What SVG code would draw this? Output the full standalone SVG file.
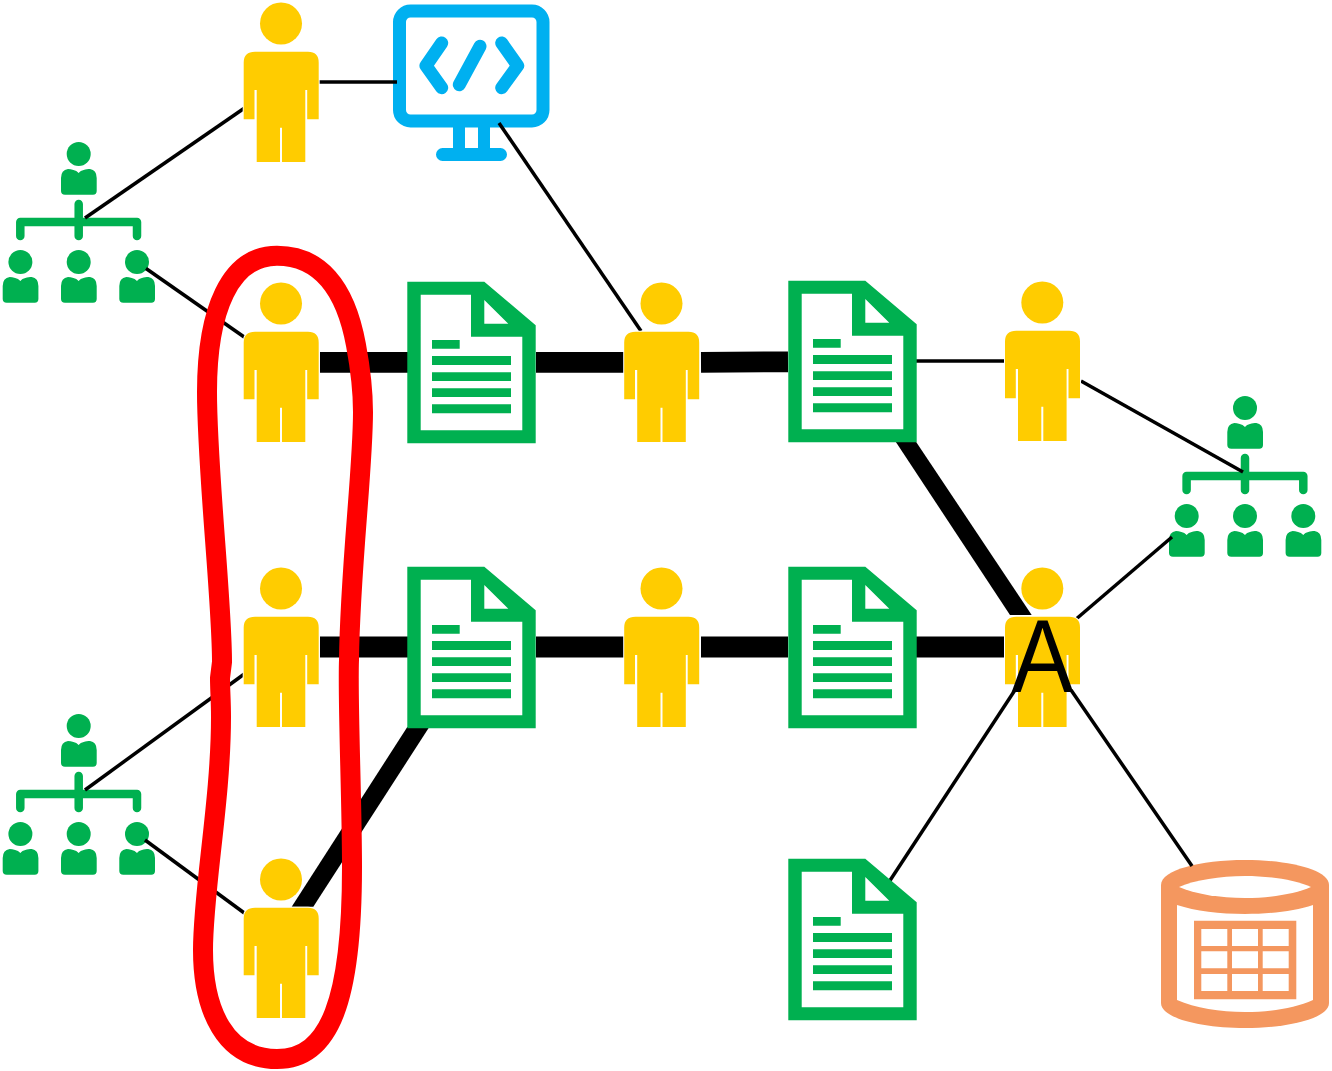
<svg xmlns="http://www.w3.org/2000/svg" width="1332" height="1071" viewBox="0 0 1332 1071">
<style>
.p{fill:#ffcc00;stroke:#fff;stroke-width:2;paint-order:stroke}
.g{fill:#00b050}
.thin{stroke:#000;stroke-width:3.5;fill:none}
.thick{stroke:#000;stroke-width:20.800;fill:none}
.o{fill:#f4975f}
.b{fill:#00b0f0}
.bs{stroke:#00b0f0;fill:none;stroke-linecap:round;stroke-linejoin:round}
</style>
<defs>
<g id="person">
<circle class="p" cx="281" cy="303.500" r="21"/>
<path class="p" d="M255 331.700H308Q318.700 331.700 318.700 342.500V399.300H307.200V370H305.300V442H282V407.700H280V442H256.700V370H254.500V399.300H243.700V342.500Q243.700 331.700 255 331.700Z"/>
</g>
<g id="doc">
<path class="g" fill-rule="evenodd" d="M407.300 281.700H484.300L535.700 325.300V443.300H407.300ZM420.700 294.700V430.300H522.300V336.700H471V294.700ZM484.300 300V323.700H508.300Z"/>
<path class="g" d="M432 340H459.700V348.700H432ZM432 356H511V365H432ZM432 372.300H511V381H432ZM432 388.300H511V397H432ZM432 404.300H511V413.300H432Z"/>
</g>
<g id="mini">
<circle class="g" cx="78.700" cy="154" r="12"/>
<path class="g" d="M68 169C71 169 76 170 78.700 173C81 170 86 169 90 169Q96.700 170 96.700 178V191Q96.700 194.700 93 194.700H65Q61 194.700 61 191V178Q61 170 68 169Z"/>
</g>
<g id="org">
<use href="#mini"/>
<use href="#mini" x="-58.300" y="108"/>
<use href="#mini" y="108"/>
<use href="#mini" x="58.300" y="108"/>
<path fill="none" stroke="#00b050" stroke-width="8.500" stroke-linecap="round" stroke-linejoin="round" d="M20.300 236V222H137V236M78.700 204V236"/>
</g>
</defs>
<g id="org-1"><use href="#org"/></g>
<g id="org-2"><use href="#org" y="572"/></g>
<g id="org-3"><use href="#org" x="1166.300" y="254"/></g>
<g id="monitor">
<rect x="399.500" y="11" width="143.500" height="110" rx="11" fill="#fff" stroke="#00b0f0" stroke-width="13"/>
<path class="b" fill-rule="evenodd" d="M453 127H490V148H500.500A6.500 6.500 0 0 1 500.500 161H442.500A6.500 6.500 0 0 1 442.500 148H453ZM465 127V148H478V127Z"/>
<path class="bs" stroke-width="13" d="M441.700 43L426 65.700L441.700 87.700M480 46.300L459.300 84.700M501.700 43L517.700 65.700L501.700 87.700"/>
</g>
<g id="database">
<path class="o" d="M1161 885C1161 870 1200 860 1245 860C1290 860 1329 870 1329 885V1003C1329 1018 1290 1028 1245 1028C1200 1028 1161 1018 1161 1003Z"/>
<path fill="#fff" d="M1179 887C1195 880 1220 876 1245 876C1270 876 1295 880 1311 887C1295 894 1270 898 1245 898C1220 898 1195 894 1179 887Z"/>
<path fill="#fff" d="M1177 905C1195 911 1220 914 1245 914C1270 914 1295 911 1313 905V1000C1295 1008 1270 1012 1245 1012C1220 1012 1195 1008 1177 1000Z"/>
<path class="o" fill-rule="evenodd" d="M1194 920.700H1296.300V999.300H1194ZM1201.300 929V946H1227.300V929ZM1232 929V946H1258V929ZM1262.700 929V946H1288.700V929ZM1201.300 951.300V968.300H1227.300V951.300ZM1232 951.300V968.300H1258V951.300ZM1262.700 951.300V968.300H1288.700V951.300ZM1201.300 974V991H1227.300V974ZM1232 974V991H1258V974ZM1262.700 974V991H1288.700V974Z"/>
</g>
<g id="connectors">
<path class="thin" d="M319 82H397"/>
<path class="thin" d="M85 218L246 107"/>
<path class="thin" d="M146 268.500L247 339"/>
<path class="thin" d="M499 123L641 331"/>
<path class="thin" d="M916 361H1004"/>
<path class="thin" d="M1081 381L1243 472"/>
<path class="thin" d="M1075 620L1172 537"/>
<path class="thin" d="M1015 690L889 882"/>
<path class="thin" d="M1071 690L1192 866"/>
<path class="thin" d="M85 790L247 672"/>
<path class="thin" d="M145 840L247 915"/>
<path class="thick" d="M320 362.300H408M536 362.300H624M701 362.300L788 361.800M320 647H408M536 647H624M701 647H788M916 647H1004"/>
<path d="M895.700 441.700H916L1031.700 615H1010Z"/>
<path d="M407.300 727H429.300L313.300 906.700H291.700Z"/>
</g>
<g id="doc-1"><use href="#doc"/></g>
<g id="doc-2"><use href="#doc" x="381" y="-1"/></g>
<g id="doc-3"><use href="#doc" y="285"/></g>
<g id="doc-4"><use href="#doc" x="381" y="285"/></g>
<g id="doc-5"><use href="#doc" x="381" y="577"/></g>
<g id="person-1"><use href="#person" y="-280"/></g>
<g id="person-2"><use href="#person"/></g>
<g id="person-3"><use href="#person" x="380.500"/></g>
<g id="person-4"><use href="#person" x="761.300" y="-1"/></g>
<g id="person-5"><use href="#person" y="285"/></g>
<g id="person-6"><use href="#person" x="380.500" y="285"/></g>
<g id="person-7"><use href="#person" x="761.300" y="285"/></g>
<g id="person-8"><use href="#person" y="576"/></g>
<g id="label-a"><text transform="translate(1042.500 692) scale(.9 1)" text-anchor="middle" font-family="'Liberation Sans',Arial,sans-serif" font-size="103" fill="#000">A</text></g>
<g id="highlight"><path fill="none" stroke="#ff0000" stroke-width="20" stroke-linejoin="round" d="M277 255.700C318 255.700 345 285 356 345C361 372 363 390 363 412C363 470 350 570 349 660C347.500 700 352 800 352 867C352 1000 330 1059 277 1059C225 1059 203 1010 203 950C203 890 221 800 221 717C221 700 220 690 220 678L222 662C222 600 207 470 207 392C207 310 230 255.700 277 255.700Z"/></g>
</svg>
